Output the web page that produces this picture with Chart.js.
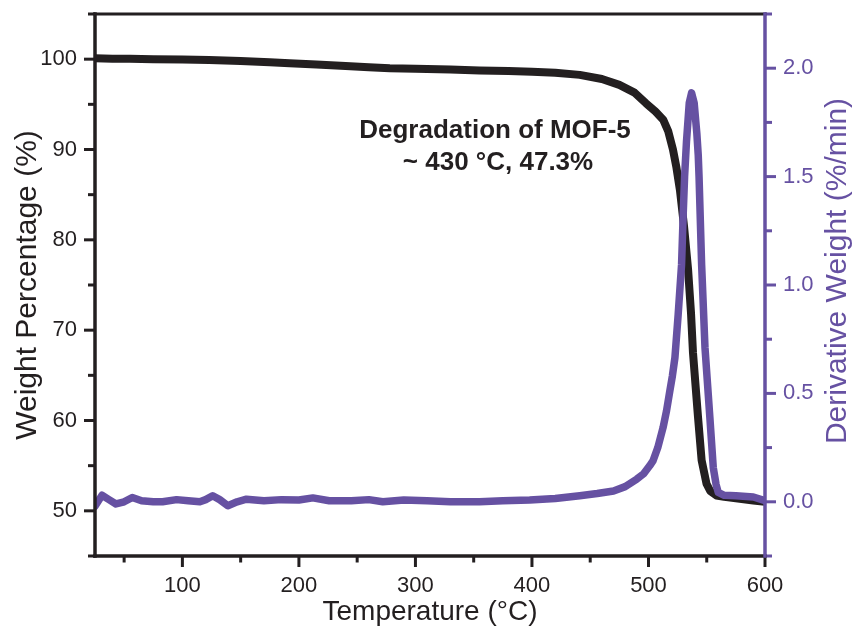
<!DOCTYPE html>
<html>
<head>
<meta charset="utf-8">
<title>MOF-5 TGA / DTG</title>
<script src="https://cdn.jsdelivr.net/npm/chart.js@4.4.1/dist/chart.umd.min.js"></script>
<style>
  html, body { margin: 0; padding: 0; background: #ffffff; }
  #wrap { width: 858px; height: 632px; }
</style>
</head>
<body>
<div id="wrap"><canvas id="tgaChart" width="858" height="632"></canvas></div>
<script>
// Weight curve (TGA)
const tgaTemp = [25, 40, 55, 75, 100, 123, 150, 175, 192, 215, 240, 260, 278, 300, 330, 355, 380, 400, 420, 441,
  460, 475, 488, 498, 506, 512.6, 517, 521, 524, 527, 530.5, 534, 536.5, 538.2, 542.5, 545.6, 549.8, 553, 558.4,
  565, 575, 590, 600];
const tgaWeight = [100.1, 100.05, 100.05, 99.98, 99.95, 99.9, 99.8, 99.65, 99.55, 99.4, 99.25, 99.1, 99.0, 98.95,
  98.85, 98.75, 98.7, 98.6, 98.5, 98.26, 97.8, 97.15, 96.3, 95.1, 94.2, 93.3, 92.0, 90.0, 88.0, 85.5, 81.5, 76.7,
  71.9, 67.5, 60.4, 55.6, 53.0, 52.2, 51.7, 51.55, 51.4, 51.15, 51.0];

// Derivative weight curve (DTG, %/min)
const dtgTemp = [25, 31, 37, 43, 50, 57, 65, 75, 83, 95, 105, 115, 120, 126, 132, 139, 147, 155, 170, 185, 200, 212,
  226, 245, 260, 272, 290, 310, 330, 355, 375, 398, 420, 441, 456, 470, 480, 490, 496, 501, 504, 508, 512.5, 515.5,
  518.3, 520.5, 522.7, 525.5, 528.4, 529.8, 531, 532.6, 535, 537, 539.2, 541.5, 542.7, 543.4, 545.6, 548.5, 552.7,
  555.6, 558, 559.9, 565, 575, 590, 600];
const dtgDeriv = [-0.02, 0.03, 0.01, -0.01, 0.0, 0.02, 0.005, 0.0, 0.0, 0.01, 0.005, 0.0, 0.01, 0.028, 0.01, -0.018,
  0.0, 0.012, 0.005, 0.01, 0.008, 0.018, 0.005, 0.005, 0.01, 0.0, 0.008, 0.005, 0.0, 0.0, 0.005, 0.008, 0.015, 0.028,
  0.038, 0.05, 0.07, 0.105, 0.13, 0.166, 0.19, 0.25, 0.342, 0.42, 0.51, 0.58, 0.665, 0.865, 1.095, 1.326, 1.5, 1.66,
  1.84, 1.886, 1.84, 1.7, 1.6, 1.5, 1.095, 0.711, 0.388, 0.158, 0.08, 0.043, 0.03, 0.028, 0.022, 0.005];

// Axis ticks
const tempTicks = [100, 200, 300, 400, 500, 600];
const tempMinorTicks = [50, 150, 250, 350, 450, 550];
const weightTicks = [50, 60, 70, 80, 90, 100];
const weightMinorTicks = [45, 55, 65, 75, 85, 95, 105];
const derivTicks = [0, 0.5, 1.0, 1.5, 2.0];
const derivMinorTicks = [-0.25, 0.25, 0.75, 1.25, 1.75, 2.25];

const BLACK = '#231f20';
const PURPLE = '#6651a2';
const FONT = "'Liberation Sans', Arial, Helvetica, sans-serif";

function toPoints(xs, ys) {
  return xs.map((x, i) => ({ x: x, y: ys[i] }));
}

// fixed box sizes, no extra label padding around the plot area
function fixBox(size, key) {
  return function(scale) {
    scale[key] = size;
    scale.paddingTop = 0;
    scale.paddingBottom = 0;
    scale.paddingLeft = 0;
    scale.paddingRight = 0;
  };
}

// Draws the axis lines, tick marks, note text and right title
const framePlugin = {
  id: 'frame',
  afterDatasetsDraw(chart) {
    const { ctx, chartArea: a, scales } = chart;
    const sx = scales.x, sy = scales.y, sy2 = scales.y2;

    function seg(x1, y1, x2, y2, color, w) {
      ctx.beginPath();
      ctx.strokeStyle = color;
      ctx.lineWidth = w;
      ctx.moveTo(x1, y1);
      ctx.lineTo(x2, y2);
      ctx.stroke();
    }

    ctx.save();
    ctx.lineCap = 'butt';

    // ticks
    tempTicks.forEach(v => { const p = sx.getPixelForValue(v); seg(p, a.bottom, p, a.bottom + 11, BLACK, 3); });
    tempMinorTicks.forEach(v => { const p = sx.getPixelForValue(v); seg(p, a.bottom, p, a.bottom + 6.5, BLACK, 3); });
    weightTicks.forEach(v => { const p = sy.getPixelForValue(v); seg(a.left, p, a.left - 11, p, BLACK, 3); });
    weightMinorTicks.forEach(v => { const p = sy.getPixelForValue(v); seg(a.left, p, a.left - 7, p, BLACK, 3); });
    derivTicks.forEach(v => { const p = sy2.getPixelForValue(v); seg(a.right, p, a.right + 11, p, PURPLE, 3); });
    derivMinorTicks.forEach(v => { const p = sy2.getPixelForValue(v); seg(a.right, p, a.right + 7, p, PURPLE, 3); });

    // axis lines
    ctx.lineCap = 'square';
    seg(a.left, a.top, a.right, a.top, BLACK, 3);
    seg(a.left, a.bottom, a.right, a.bottom, BLACK, 3.5);
    seg(a.left, a.top, a.left, a.bottom, BLACK, 3.5);
    seg(a.right, a.top, a.right, a.bottom, PURPLE, 3.5);

    // note
    ctx.fillStyle = BLACK;
    ctx.font = 'bold 26px ' + FONT;
    ctx.textAlign = 'center';
    ctx.textBaseline = 'alphabetic';
    ctx.fillText('Degradation of MOF-5', 495, 138);
    ctx.fillText('~ 430 \u00b0C, 47.3%', 498, 170);

    // right axis title, reading bottom to top
    ctx.translate(838, 271);
    ctx.rotate(-Math.PI / 2);
    ctx.fillStyle = PURPLE;
    ctx.font = '30px ' + FONT;
    ctx.textBaseline = 'middle';
    ctx.fillText('Derivative Weight (%/min)', 0, 0);
    ctx.restore();
  }
};

const ctx = document.getElementById('tgaChart');

new Chart(ctx, {
  type: 'line',
  data: {
    datasets: [
      {
        label: 'Weight (%)',
        data: toPoints(tgaTemp, tgaWeight),
        yAxisID: 'y',
        borderColor: BLACK,
        borderWidth: 8,
        borderJoinStyle: 'round',
        borderCapStyle: 'round',
        pointRadius: 0,
        tension: 0,
        order: 2
      },
      {
        label: 'Derivative weight (%/min)',
        data: toPoints(dtgTemp, dtgDeriv),
        yAxisID: 'y2',
        borderColor: PURPLE,
        borderWidth: 7.5,
        borderJoinStyle: 'round',
        borderCapStyle: 'round',
        pointRadius: 0,
        tension: 0,
        order: 1
      }
    ]
  },
  options: {
    responsive: false,
    devicePixelRatio: 1,
    animation: false,
    layout: { padding: { top: 14, left: 0, right: 0, bottom: 0 } },
    plugins: {
      legend: { display: false },
      tooltip: { enabled: false }
    },
    scales: {
      x: {
        type: 'linear',
        min: 25,
        max: 600,
        afterBuildTicks: scale => { scale.ticks = tempTicks.map(v => ({ value: v })); },
        afterFit: fixBox(76, 'height'),
        grid: { display: false, drawTicks: false },
        border: { display: false },
        ticks: { color: BLACK, font: { family: FONT, size: 22 }, padding: 17, maxRotation: 0 },
        title: {
          display: true,
          text: 'Temperature (\u00b0C)',
          color: BLACK,
          font: { family: FONT, size: 28 },
          padding: { top: 0, bottom: 3 }
        }
      },
      y: {
        position: 'left',
        min: 45,
        max: 105,
        afterBuildTicks: scale => { scale.ticks = weightTicks.map(v => ({ value: v })); },
        afterFit: fixBox(95, 'width'),
        grid: { display: false, drawTicks: false },
        border: { display: false },
        ticks: { color: BLACK, font: { family: FONT, size: 22 }, padding: 18 },
        title: {
          display: true,
          text: 'Weight Percentage (%)',
          color: BLACK,
          font: { family: FONT, size: 30 },
          padding: 10
        }
      },
      y2: {
        position: 'right',
        min: -0.25,
        max: 2.25,
        afterBuildTicks: scale => { scale.ticks = derivTicks.map(v => ({ value: v })); },
        afterFit: fixBox(93, 'width'),
        grid: { display: false, drawTicks: false },
        border: { display: false },
        ticks: {
          color: PURPLE,
          font: { family: FONT, size: 22 },
          padding: 18,
          callback: v => v.toFixed(1)
        }
      }
    }
  },
  plugins: [framePlugin]
});
</script>
</body>
</html>
